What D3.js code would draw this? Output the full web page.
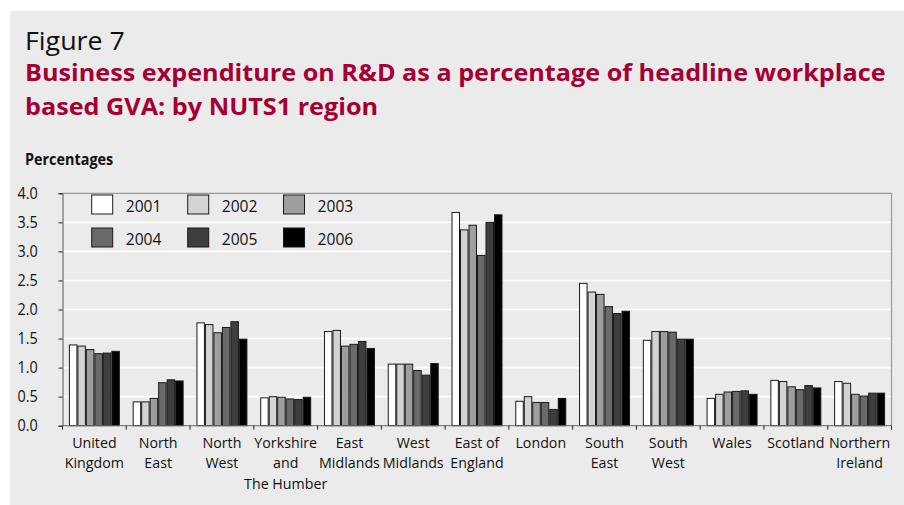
<!DOCTYPE html>
<html>
<head>
<meta charset="utf-8">
<script src="https://cdn.jsdelivr.net/npm/d3@7"></script>
<style>
  html, body { margin: 0; padding: 0; background: #ffffff; }
  svg { display: block; }
  text { font-family: "Open Sans", sans-serif; fill: #111; }
</style>
</head>
<body>
<svg id="chart" width="904" height="505"></svg>
<script>
// Business expenditure on R&D as % of workplace-based GVA, by NUTS1 region
const regions = [
  ["United", "Kingdom"], ["North", "East"], ["North", "West"],
  ["Yorkshire", "and", "The Humber"], ["East", "Midlands"], ["West", "Midlands"],
  ["East of", "England"], ["London"], ["South", "East"], ["South", "West"],
  ["Wales"], ["Scotland"], ["Northern", "Ireland"]
];
const years = ["2001", "2002", "2003", "2004", "2005", "2006"];

const v2001 = [1.39, 0.41, 1.77, 0.48, 1.62, 1.06, 3.67, 0.42, 2.45, 1.47, 0.47, 0.78, 0.76];
const v2002 = [1.37, 0.41, 1.74, 0.50, 1.64, 1.06, 3.37, 0.50, 2.30, 1.62, 0.54, 0.76, 0.73];
const v2003 = [1.31, 0.47, 1.60, 0.49, 1.37, 1.06, 3.45, 0.40, 2.26, 1.62, 0.58, 0.67, 0.54];
const v2004 = [1.24, 0.74, 1.69, 0.46, 1.40, 0.95, 2.93, 0.40, 2.05, 1.61, 0.59, 0.62, 0.51];
const v2005 = [1.25, 0.79, 1.79, 0.45, 1.45, 0.87, 3.50, 0.28, 1.93, 1.49, 0.60, 0.69, 0.56];
const v2006 = [1.28, 0.77, 1.49, 0.49, 1.33, 1.07, 3.63, 0.47, 1.97, 1.49, 0.54, 0.65, 0.56];
const series = [v2001, v2002, v2003, v2004, v2005, v2006];

const yTicks = [0, 0.5, 1, 1.5, 2, 2.5, 3, 3.5, 4];
const colors = ["#ffffff", "#d3d3d3", "#9e9e9e", "#6a6a6a", "#3e3e3e", "#000000"];

const svg = d3.select("#chart");

// narrow text: a group anchored at (ax, 0) squeezed horizontally
function squeezed(parent, ax, sx) {
  return parent.append("g").attr("transform", `translate(${ax},0) scale(${sx},1)`);
}

// panel background
svg.append("rect").attr("x", 10).attr("y", 11).attr("width", 894).attr("height", 494)
  .attr("fill", "#ebebeb");

// headings
const head = squeezed(svg, 25, 1.073);
head.append("text").attr("x", 0).attr("y", 50).attr("font-size", 25).text("Figure 7");
const titleLines = ["Business expenditure on R&D as a percentage of headline workplace",
                    "based GVA: by NUTS1 region"];
titleLines.forEach((t, i) => {
  head.append("text").attr("x", 0).attr("y", 81 + i * 34).attr("font-size", 23.5)
    .attr("font-weight", "bold").style("fill", "#a50034").text(t);
});
squeezed(svg, 25, 0.93).append("text").attr("x", 0).attr("y", 165).attr("font-size", 15.5)
  .attr("font-weight", "bold").text("Percentages");

const plot = { left: 62.5, right: 891.5, top: 193.3, bottom: 425.7 };

const x = d3.scaleBand().domain(d3.range(regions.length)).range([plot.left, plot.right]).padding(0);
const x1 = d3.scaleBand().domain(years).range([6.4, x.bandwidth() - 6.4]).padding(0);
const y = d3.scaleLinear().domain([0, 4]).range([plot.bottom, plot.top]);

// gridlines
svg.append("g").selectAll("line").data(yTicks.filter(d => d > 0 && d < 4)).join("line")
  .attr("x1", plot.left).attr("x2", plot.right)
  .attr("y1", d => y(d)).attr("y2", d => y(d))
  .attr("stroke", "#ffffff").attr("stroke-width", 1.6);

// plot frame (top and right)
svg.append("path")
  .attr("d", `M${plot.left},${plot.top}H${plot.right}V${plot.bottom}`)
  .attr("fill", "none").attr("stroke", "#9a9a9a").attr("stroke-width", 1.2);

// bars
const groups = svg.append("g").selectAll("g").data(regions).join("g")
  .attr("transform", (d, i) => `translate(${x(i)},0)`);
groups.selectAll("rect")
  .data((d, i) => years.map((yr, k) => ({ yr, k, v: series[k][i] })))
  .join("rect")
  .attr("x", d => x1(d.yr) + 0.5)
  .attr("width", x1.bandwidth() - 1)
  .attr("y", d => y(d.v))
  .attr("height", d => plot.bottom - y(d.v))
  .attr("fill", d => colors[d.k])
  .attr("stroke", "#1a1a1a").attr("stroke-width", 1);

// y axis
const yAxis = svg.append("g").attr("transform", `translate(${plot.left},0)`)
  .call(d3.axisLeft(y).tickValues(yTicks).tickFormat(d3.format(".1f")).tickSize(4).tickPadding(9));
yAxis.select(".domain").attr("stroke", "#555");
yAxis.selectAll(".tick line").attr("stroke", "#222");
yAxis.selectAll(".tick text").attr("font-size", 16).attr("fill", "#111")
  .style("font-family", "'Open Sans', sans-serif")
  .attr("transform", "translate(-13,0) scale(0.9,1)");

// x axis with ticks at category boundaries
const bounds = d3.range(regions.length + 1).map(i => i < regions.length ? x(i) : plot.right);
svg.append("line").attr("x1", plot.left).attr("x2", plot.right)
  .attr("y1", plot.bottom).attr("y2", plot.bottom).attr("stroke", "#666");
svg.append("g").selectAll("line").data(bounds).join("line")
  .attr("x1", d => d).attr("x2", d => d)
  .attr("y1", plot.bottom).attr("y2", plot.bottom + 4)
  .attr("stroke", "#222");

// category labels, one text per line
const labelLayer = svg.append("g");
regions.forEach((lines, i) => {
  const g = squeezed(labelLayer, x(i) + x.bandwidth() / 2, 0.95);
  lines.forEach((s, j) => {
    g.append("text").attr("text-anchor", "middle").attr("font-size", 15)
      .attr("x", 0).attr("y", 448 + j * 20.5).text(s);
  });
});

// legend
const legendCols = [91.7, 187.7, 283.5];
const legendRows = [195, 228];
years.forEach((yr, k) => {
  const cx = legendCols[k % 3], cy = legendRows[Math.floor(k / 3)];
  svg.append("rect").attr("x", cx).attr("y", cy).attr("width", 21).attr("height", 19)
    .attr("fill", colors[k]).attr("stroke", "#1a1a1a").attr("stroke-width", 1);
  squeezed(svg, cx + 34, 0.92).append("text").attr("x", 0).attr("y", cy + 17)
    .attr("font-size", 17).text(yr);
});
</script>
</body>
</html>
